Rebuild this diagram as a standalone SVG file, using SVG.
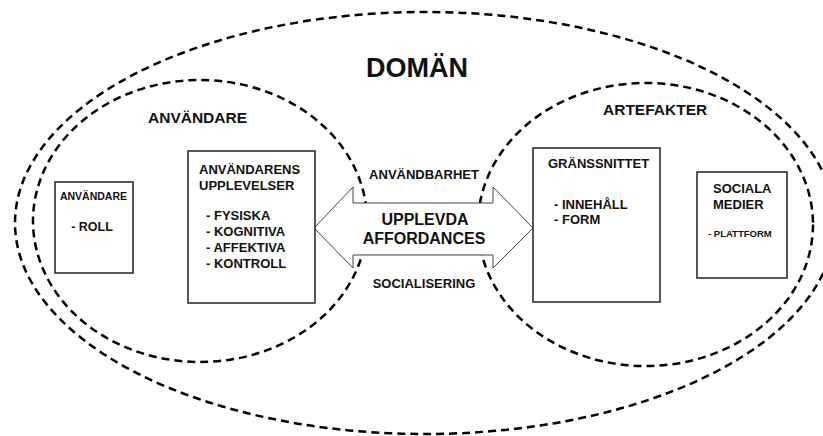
<svg xmlns="http://www.w3.org/2000/svg" width="823" height="436" viewBox="0 0 823 436">
<style>
.region{fill:none;stroke:#000;stroke-width:2.5;stroke-dasharray:8 5}
.box{fill:#fff;stroke:#222;stroke-width:1.5}
.arrow{fill:#fff;stroke:#444;stroke-width:1}
text{font-family:"Liberation Sans",Arial,sans-serif;font-weight:bold;fill:#111}
.t13{font-size:13px}
.t16{font-size:16px}
.mid{text-anchor:middle}
</style>
<rect width="823" height="436" fill="#fff"/>
<g id="domain">
<ellipse class="region" cx="425" cy="223" rx="410" ry="211"/>
<text x="417" y="77" class="mid" style="font-size:27px">DOMÄN</text>
</g>
<g id="anvandare-region">
<ellipse class="region" cx="200" cy="221" rx="167" ry="141"/>
<text x="148" y="123" style="font-size:15.5px">ANVÄNDARE</text>
</g>
<g id="artefakter-region">
<ellipse class="region" cx="645.5" cy="224.5" rx="167.5" ry="141.5"/>
<text x="603" y="115" style="font-size:15.5px">ARTEFAKTER</text>
</g>
<g id="connectors">
<polygon class="arrow" points="314,228 353,187 353,203 493,203 493,187 533,228 493,268 493,255 353,255 353,268"/>
<text x="425" y="225" class="mid t16">UPPLEVDA</text>
<text x="424" y="244" class="mid t16">AFFORDANCES</text>
<text x="424" y="179" class="mid t13">ANVÄNDBARHET</text>
<text x="424" y="288" class="mid t13">SOCIALISERING</text>
</g>
<g id="anvandare">
<rect class="box" x="55" y="182" width="78" height="91"/>
<text x="93.5" y="200" class="mid" style="font-size:10.5px">ANVÄNDARE</text>
<text x="92" y="231" class="mid" style="font-size:12.5px">- ROLL</text>
</g>
<g id="anvandarens-upplevelser">
<rect class="box" x="188" y="151" width="127" height="152"/>
<text x="199" y="174" class="t13">ANVÄNDARENS</text>
<text x="199" y="190" class="t13">UPPLEVELSER</text>
<text x="206" y="220" class="t13">- FYSISKA</text>
<text x="206" y="236" class="t13">- KOGNITIVA</text>
<text x="206" y="252" class="t13">- AFFEKTIVA</text>
<text x="206" y="268" class="t13">- KONTROLL</text>
</g>
<g id="granssnittet">
<rect class="box" x="533" y="148" width="127" height="154"/>
<text x="548" y="168" class="t13">GRÄNSSNITTET</text>
<text x="554" y="209" class="t13">- INNEHÅLL</text>
<text x="554" y="224" class="t13">- FORM</text>
</g>
<g id="sociala-medier">
<rect class="box" x="697" y="172" width="90" height="106"/>
<text x="713" y="193" class="t13">SOCIALA</text>
<text x="713" y="209" class="t13">MEDIER</text>
<text x="708" y="237" style="font-size:9.5px">- PLATTFORM</text>
</g>
</svg>
